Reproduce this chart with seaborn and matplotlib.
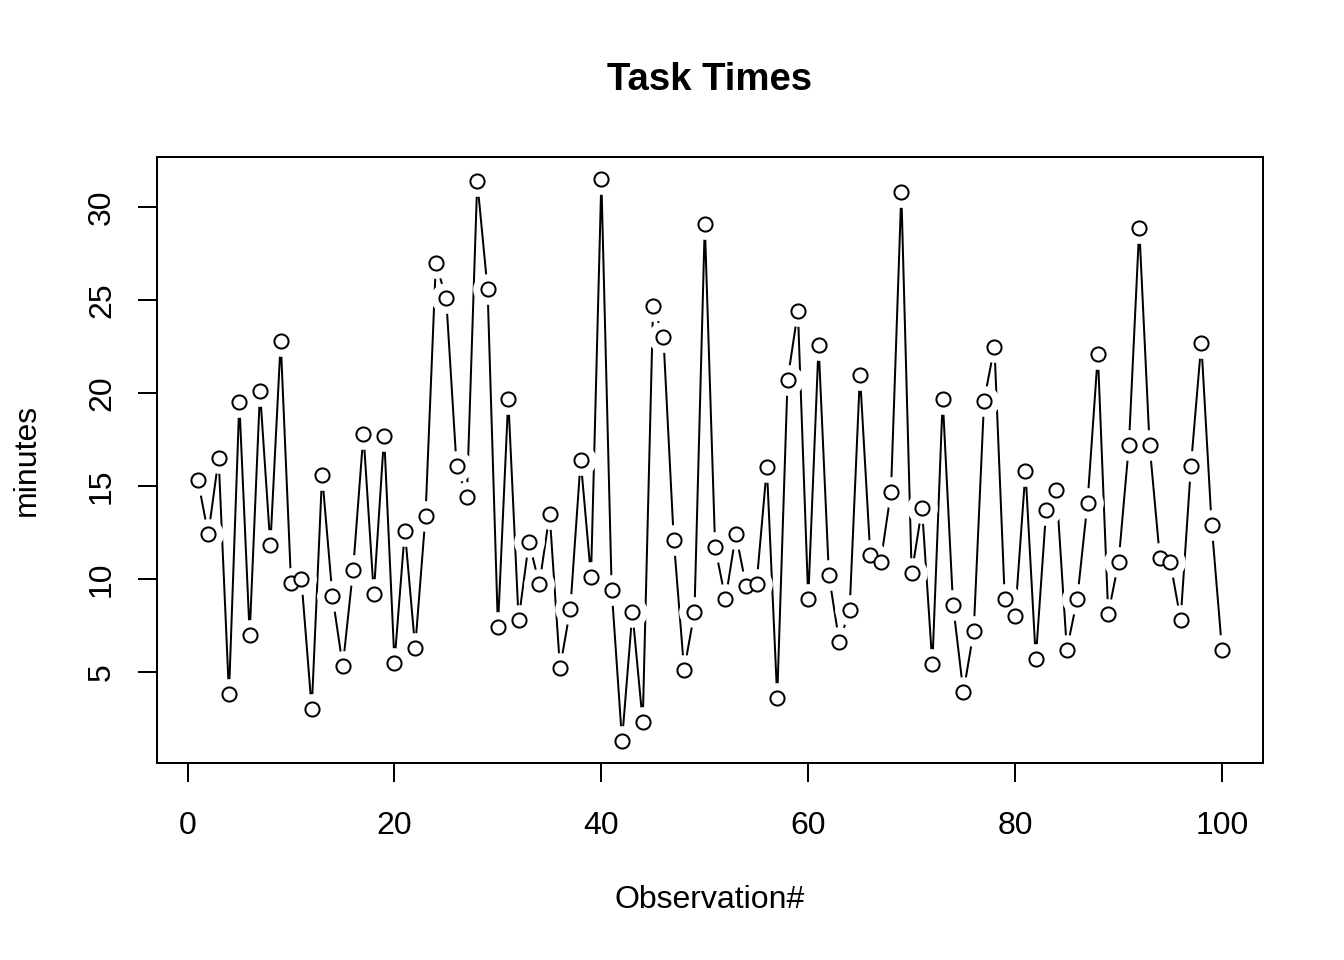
import matplotlib
matplotlib.use("Agg")
import matplotlib.pyplot as plt
import seaborn as sns
import pandas as pd

# Task times per observation (minutes)
observation = list(range(1, 101))
minutes = [
    15.3, 12.4, 16.5, 3.8, 19.5, 7.0, 20.1, 11.8, 22.8, 9.8,
    10.0, 3.0, 15.6, 9.1, 5.3, 10.5, 17.8, 9.2, 17.7, 5.5,
    12.6, 6.3, 13.4, 27.0, 25.1, 16.1, 14.4, 31.4, 25.6, 7.4,
    19.7, 7.8, 12.0, 9.7, 13.5, 5.2, 8.4, 16.4, 10.1, 31.5,
    9.4, 1.3, 8.2, 2.3, 24.7, 23.0, 12.1, 5.1, 8.2, 29.1,
    11.7, 8.9, 12.4, 9.6, 9.7, 16.0, 3.6, 20.7, 24.4, 8.9,
    22.6, 10.2, 6.6, 8.3, 21.0, 11.3, 10.9, 14.7, 30.8, 10.3,
    13.8, 5.4, 19.7, 8.6, 3.9, 7.2, 19.6, 22.5, 8.9, 8.0,
    15.8, 5.7, 13.7, 14.8, 6.2, 8.9, 14.1, 22.1, 8.1, 10.9,
    17.2, 28.9, 17.2, 11.1, 10.9, 7.8, 16.1, 22.7, 12.9, 6.2,
]
x_ticks = [0, 20, 40, 60, 80, 100]
y_ticks = [5, 10, 15, 20, 25, 30]

df = pd.DataFrame({"obs": observation, "minutes": minutes})

sns.set_style("white")
plt.rcParams["font.family"] = ["Liberation Sans", "DejaVu Sans"]
plt.rcParams["text.color"] = "black"
plt.rcParams["axes.labelcolor"] = "black"

fig = plt.figure(figsize=(7, 5), dpi=192)
ax = fig.add_axes([0.1168, 0.2052, 0.8229, 0.6313])

# line, then white halo to leave gaps (like R type="b"), then open circles
sns.lineplot(data=df, x="obs", y="minutes", color="black", linewidth=0.75, ax=ax, zorder=1)
ax.plot(df["obs"], df["minutes"], linestyle="none", marker="o", markersize=10.5,
        markerfacecolor="white", markeredgecolor="white", zorder=2)
ax.plot(df["obs"], df["minutes"], linestyle="none", marker="o", markersize=5.3,
        markerfacecolor="white", markeredgecolor="black", markeredgewidth=0.75, zorder=3)

lo, hi = min(minutes), max(minutes)
pad = (hi - lo) * 0.04
ax.set_ylim(lo - pad, hi + pad)
ax.set_xlim(1 - 99 * 0.04, 100 + 99 * 0.04)

ax.set_xticks(x_ticks)
ax.set_yticks(y_ticks)
ax.set_yticklabels([str(t) for t in y_ticks], rotation=90, va="center")
ax.tick_params(axis="both", direction="out", length=7, width=0.75, labelsize=12,
               color="black", labelcolor="black", bottom=True, left=True)
ax.tick_params(axis="x", pad=11)
ax.tick_params(axis="y", pad=8)

for s in ax.spines.values():
    s.set_visible(True)
    s.set_color("black")
    s.set_linewidth(0.75)

ax.set_xlabel("Observation#", fontsize=12, labelpad=16.5, color="black")
ax.set_ylabel("minutes", fontsize=12, labelpad=17, color="black")
ax.set_title("Task Times", fontsize=14.4, fontweight="bold", pad=25, color="black")

fig.savefig("out.png", dpi=192)
